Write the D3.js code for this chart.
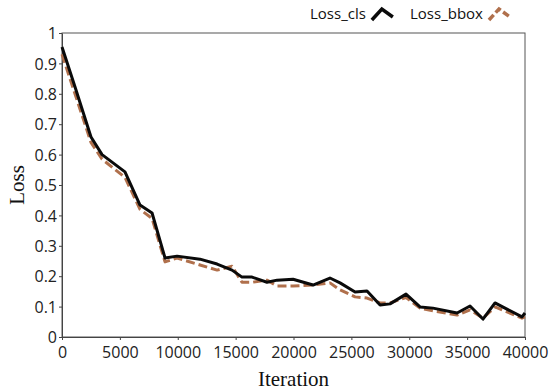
<!DOCTYPE html>
<html>
<head>
<meta charset="utf-8">
<script src="https://cdn.jsdelivr.net/npm/d3@7"></script>
<style>
  body { margin: 0; background: #fff; }
  #chart { width: 550px; height: 392px; }
</style>
</head>
<body>
<div id="chart"></div>
<script>
// values
var iterations = [0, 1120, 2505, 3460, 5440, 6740, 7780, 8900, 9940, 11920, 13400, 14690, 15550, 16420,
    17710, 18580, 19960, 21690, 23150, 24020, 25320, 26350, 27480, 28340, 29720, 30930, 32050,
    34130, 35250, 36370, 37410, 39740, 40000];
var lossCls = [0.954, 0.823, 0.658, 0.600, 0.543, 0.434, 0.408, 0.260, 0.266, 0.256, 0.240, 0.220, 0.197, 0.197,
    0.180, 0.187, 0.190, 0.171, 0.194, 0.178, 0.148, 0.151, 0.105, 0.109, 0.141, 0.099, 0.095,
    0.079, 0.102, 0.059, 0.112, 0.066, 0.079];
var lossBbox = [0.930, 0.800, 0.640, 0.585, 0.525, 0.420, 0.390, 0.247, 0.260, 0.237, 0.220, 0.233, 0.180, 0.180,
    0.187, 0.168, 0.168, 0.171, 0.178, 0.155, 0.132, 0.128, 0.112, 0.112, 0.130, 0.095, 0.086,
    0.072, 0.089, 0.062, 0.099, 0.062, 0.066];
var xTicks = [0, 5000, 10000, 15000, 20000, 25000, 30000, 35000, 40000];
var yTicks = [0, 0.1, 0.2, 0.3, 0.4, 0.5, 0.6, 0.7, 0.8, 0.9, 1];
var seriesNames = ['Loss_cls', 'Loss_bbox'];

var width = 550, height = 392;
var margin = {top: 33, right: 25, bottom: 55, left: 62};
var w = width - margin.left - margin.right;
var h = height - margin.top - margin.bottom;

var bboxColor = '#b0704c';

var svg = d3.select('#chart').append('svg')
    .attr('width', width)
    .attr('height', height);

var g = svg.append('g')
    .attr('transform', 'translate(' + margin.left + ',' + margin.top + ')');

var x = d3.scaleLinear().domain([0, 40000]).range([0, w]);
var y = d3.scaleLinear().domain([0, 1]).range([h, 0]);

// plot frame
g.append('rect')
    .attr('width', w)
    .attr('height', h)
    .attr('fill', 'none')
    .attr('stroke', '#555')
    .attr('stroke-width', 1);

var xAxis = d3.axisBottom(x).tickValues(xTicks).tickFormat(d3.format('d')).tickSize(3).tickSizeOuter(0);
var yAxis = d3.axisLeft(y).tickValues(yTicks).tickFormat(function(d){ return d3.format('')(+d.toFixed(1)); })
    .tickSize(3).tickSizeOuter(0);

var xg = g.append('g')
    .attr('transform', 'translate(0,' + h + ')')
    .call(xAxis);
var yg = g.append('g').call(yAxis);

[xg, yg].forEach(function(a){
    a.select('.domain').attr('stroke', '#444');
    a.selectAll('.tick line').attr('stroke', '#444');
    a.selectAll('.tick text')
        .attr('fill', '#222')
        .style('font-family', '"Open Sans", sans-serif')
        .style('font-size', '16px');
});
xg.selectAll('.tick text').attr('dy', '0.95em');
yg.selectAll('.tick text').attr('x', -5).attr('dy', '0.35em');

// axis titles
svg.append('text')
    .attr('x', margin.left + w / 2)
    .attr('y', 386)
    .attr('text-anchor', 'middle')
    .style('font-family', '"Liberation Serif", "Times New Roman", serif')
    .style('font-size', '21px')
    .attr('fill', '#111')
    .text('Iteration');

svg.append('text')
    .attr('transform', 'translate(24,' + (margin.top + h / 2) + ') rotate(-90)')
    .attr('text-anchor', 'middle')
    .style('font-family', '"Liberation Serif", "Times New Roman", serif')
    .style('font-size', '21px')
    .attr('fill', '#111')
    .text('Loss');

// data lines
var line = d3.line()
    .x(function(d, i){ return x(iterations[i]); })
    .y(function(d){ return y(d); });

g.append('path')
    .attr('d', line(lossBbox))
    .attr('fill', 'none')
    .attr('stroke', bboxColor)
    .attr('stroke-width', 3)
    .attr('stroke-dasharray', '9,4')
    .attr('stroke-linejoin', 'round');

g.append('path')
    .attr('d', line(lossCls))
    .attr('fill', 'none')
    .attr('stroke', '#0a0a0a')
    .attr('stroke-width', 3)
    .attr('stroke-linejoin', 'round');

// legend with little chevron icons
var legend = svg.append('g');
var legendX = [310, 410];
var iconPath = 'M0,12 L10,1 L21,9';

seriesNames.forEach(function(name, i){
    var t = legend.append('text')
        .attr('x', legendX[i])
        .attr('y', 19)
        .style('font-family', '"Open Sans", sans-serif')
        .style('font-size', '15px')
        .attr('fill', '#111')
        .text(name);
    var tw = t.node().getComputedTextLength();
    legend.append('path')
        .attr('transform', 'translate(' + (legendX[i] + tw + 6) + ',8)')
        .attr('d', iconPath)
        .attr('fill', 'none')
        .attr('stroke', i === 0 ? '#0a0a0a' : bboxColor)
        .attr('stroke-width', 3.5)
        .attr('stroke-dasharray', i === 0 ? null : '7,3');
});
</script>
</body>
</html>
